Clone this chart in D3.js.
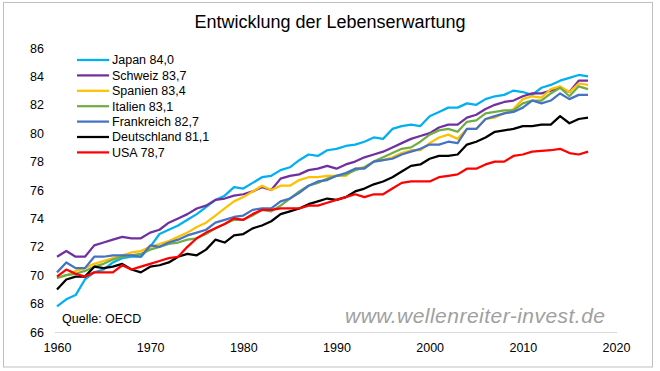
<!DOCTYPE html>
<html>
<head>
<meta charset="utf-8">
<script src="https://cdn.jsdelivr.net/npm/d3@7"></script>
<style>
  body { margin: 0; background: #fff; }
  svg { display: block; font-family: "Liberation Sans", Arial, sans-serif; }
</style>
</head>
<body>
<svg id="chart" width="660" height="371"></svg>
<script>
// Lebenserwartung bei Geburt, 1960-2017 (Quelle: OECD)
const years = d3.range(1960, 2018);

const japan = [
  67.8, 68.3, 68.6, 69.7, 70.2, 70.4, 70.9, 71.2, 71.3, 71.3,
  72.0, 72.9, 73.2, 73.5, 73.9, 74.3, 74.8, 75.3, 75.6, 76.2,
  76.1, 76.5, 76.9, 77.0, 77.4, 77.6, 78.1, 78.5, 78.4, 78.8,
  78.9, 79.1, 79.2, 79.4, 79.7, 79.6, 80.3, 80.5, 80.6, 80.5,
  81.2, 81.5, 81.8, 81.8, 82.1, 82.0, 82.4, 82.6, 82.7, 83.0,
  82.9, 82.7, 83.2, 83.4, 83.7, 83.9, 84.1, 84.0
];
const schweiz = [
  71.3, 71.7, 71.3, 71.3, 72.1, 72.3, 72.5, 72.7, 72.6, 72.6,
  73.0, 73.2, 73.7, 74.0, 74.3, 74.7, 74.9, 75.3, 75.4, 75.6,
  75.7, 75.9, 76.2, 76.0, 76.8, 77.0, 77.1, 77.4, 77.5, 77.7,
  77.5, 77.8, 78.0, 78.3, 78.5, 78.7, 79.0, 79.3, 79.6, 79.8,
  80.0, 80.4, 80.6, 80.6, 81.1, 81.3, 81.7, 82.0, 82.2, 82.3,
  82.6, 82.8, 82.8, 83.0, 83.2, 82.9, 83.7, 83.7
];
const spanien = [
  69.8, 70.0, 70.3, 70.5, 70.8, 71.0, 71.2, 71.4, 71.6, 71.7,
  72.0, 72.2, 72.4, 72.7, 73.0, 73.4, 73.7, 74.2, 74.7, 75.2,
  75.5, 75.9, 76.3, 76.0, 76.3, 76.3, 76.7, 76.9, 76.9, 77.0,
  77.0, 77.0, 77.5, 77.6, 78.0, 78.1, 78.3, 78.6, 78.8, 78.8,
  79.3, 79.7, 79.9, 79.6, 80.3, 80.3, 81.0, 81.1, 81.4, 81.7,
  82.4, 82.6, 82.5, 83.1, 83.3, 82.9, 83.5, 83.4
];
const italien = [
  69.8, 70.0, 70.1, 70.3, 70.6, 70.8, 71.1, 71.3, 71.4, 71.5,
  71.8, 72.0, 72.2, 72.3, 72.5, 72.6, 72.9, 73.3, 73.6, 73.9,
  73.9, 74.2, 74.6, 74.5, 74.9, 75.4, 75.9, 76.3, 76.5, 76.8,
  77.0, 77.1, 77.4, 77.6, 78.0, 78.3, 78.6, 78.9, 79.0, 79.4,
  79.9, 80.2, 80.3, 80.1, 80.8, 80.9, 81.4, 81.5, 81.6, 81.6,
  82.1, 82.3, 82.3, 82.8, 83.2, 82.6, 83.3, 83.1
];
const frankreich = [
  70.2, 70.9, 70.5, 70.5, 71.3, 71.3, 71.4, 71.4, 71.4, 71.3,
  72.1, 72.0, 72.3, 72.5, 72.8, 73.0, 73.2, 73.7, 73.9, 74.1,
  74.2, 74.6, 74.7, 74.7, 75.2, 75.4, 75.8, 76.3, 76.6, 76.7,
  77.0, 77.2, 77.5, 77.5, 78.0, 78.1, 78.2, 78.5, 78.7, 78.9,
  79.2, 79.2, 79.4, 79.3, 80.3, 80.3, 81.0, 81.2, 81.4, 81.5,
  81.8, 82.3, 82.1, 82.3, 82.8, 82.4, 82.7, 82.7
];
const deutschland = [
  69.0, 69.7, 69.9, 69.9, 70.6, 70.5, 70.6, 70.8, 70.4, 70.2,
  70.6, 70.7, 70.9, 71.3, 71.5, 71.4, 71.8, 72.5, 72.3, 72.8,
  72.9, 73.3, 73.5, 73.8, 74.3, 74.5, 74.7, 75.0, 75.2, 75.4,
  75.3, 75.5, 75.9, 76.1, 76.4, 76.6, 76.9, 77.3, 77.7, 77.8,
  78.2, 78.4, 78.4, 78.5, 79.2, 79.4, 79.7, 80.1, 80.2, 80.3,
  80.5, 80.5, 80.6, 80.6, 81.2, 80.7, 81.0, 81.1
];
const usa = [
  69.9, 70.4, 70.1, 69.9, 70.2, 70.2, 70.2, 70.7, 70.4, 70.6,
  70.8, 71.0, 71.2, 71.3, 72.0, 72.6, 73.0, 73.3, 73.6, 74.0,
  73.9, 74.3, 74.6, 74.6, 74.7, 74.7, 74.7, 74.9, 74.9, 75.1,
  75.3, 75.5, 75.7, 75.5, 75.7, 75.7, 76.1, 76.5, 76.6, 76.6,
  76.6, 76.9, 77.0, 77.1, 77.5, 77.5, 77.8, 78.0, 78.0, 78.4,
  78.5, 78.7, 78.75, 78.8, 78.9, 78.6, 78.5, 78.7
];

const seriesNames = ["Japan 84,0", "Schweiz 83,7", "Spanien 83,4", "Italien 83,1",
                     "Frankreich 82,7", "Deutschland 81,1", "USA 78,7"];
const seriesValues = [japan, schweiz, spanien, italien, frankreich, deutschland, usa];
const seriesColors = ["#00b0f0", "#7030a0", "#ffc000", "#70ad47", "#4472c4", "#000000", "#ff0000"];

const yTicks = d3.range(66, 87, 2);
const xTicks = [1960, 1970, 1980, 1990, 2000, 2010, 2020];

const svg = d3.select("#chart");

// outer frame
svg.append("rect")
  .attr("x", 3.5).attr("y", 2.5)
  .attr("width", 649).attr("height", 364.5)
  .attr("fill", "#fff")
  .attr("stroke", "#bfbfbf");

// title
svg.append("text")
  .attr("x", 330).attr("y", 28)
  .attr("text-anchor", "middle")
  .style("font-size", "18px")
  .attr("fill", "#000")
  .text("Entwicklung der Lebenserwartung");

// scales
const x = d3.scaleLinear().domain([1960, 2020]).range([57, 616]);
const y = d3.scaleLinear().domain([66, 86]).range([332, 48]);

// y axis: labels only
const yAxis = svg.append("g")
  .attr("transform", `translate(${x(1960)},0)`)
  .call(d3.axisLeft(y).tickValues(yTicks).tickSize(0).tickPadding(13).tickFormat(d3.format("d")));
yAxis.select(".domain").remove();
yAxis.selectAll("text").style("font-size", "12.5px").style("font-family", "Liberation Sans, Arial, sans-serif").attr("fill", "#000");

// x axis
const xAxis = svg.append("g")
  .attr("transform", `translate(0,${y(66)})`)
  .call(d3.axisBottom(x).tickValues(xTicks).tickSize(0).tickPadding(11).tickFormat(d3.format("d")));
xAxis.select(".domain").remove();
xAxis.selectAll("text").style("font-size", "12.5px").style("font-family", "Liberation Sans, Arial, sans-serif").attr("fill", "#000");
svg.append("line")
  .attr("x1", x(1960) - 2).attr("x2", x(2020) + 1)
  .attr("y1", y(66) + 0.5).attr("y2", y(66) + 0.5)
  .attr("stroke", "#d9d9d9").attr("stroke-width", 1);

// watermark and source
svg.append("text")
  .attr("x", 345).attr("y", 323)
  .attr("textLength", 260)
  .style("font-size", "21px")
  .style("font-style", "italic")
  .attr("fill", "#a0a0a0")
  .text("www.wellenreiter-invest.de");

svg.append("text")
  .attr("x", 62).attr("y", 323)
  .style("font-size", "12.5px")
  .attr("fill", "#000")
  .text("Quelle: OECD");

// lines
const line = d3.line()
  .x((d, i) => x(years[i]))
  .y(d => y(d));

svg.append("g")
  .selectAll("path")
  .data(seriesValues)
  .join("path")
  .attr("d", line)
  .attr("fill", "none")
  .attr("stroke", (d, i) => seriesColors[i])
  .attr("stroke-width", 2.25)
  .attr("stroke-linejoin", "round");

// legend
const legend = svg.append("g").attr("transform", "translate(77,60)");
const items = legend.selectAll("g")
  .data(seriesNames)
  .join("g")
  .attr("transform", (d, i) => `translate(0,${i * 15.4})`);
items.append("line")
  .attr("x1", 0).attr("x2", 32)
  .attr("stroke", (d, i) => seriesColors[i])
  .attr("stroke-width", 2.25);
items.append("text")
  .attr("x", 35).attr("dy", "0.35em")
  .style("font-size", "12.5px")
  .attr("fill", "#000")
  .text(d => d);
</script>
</body>
</html>
